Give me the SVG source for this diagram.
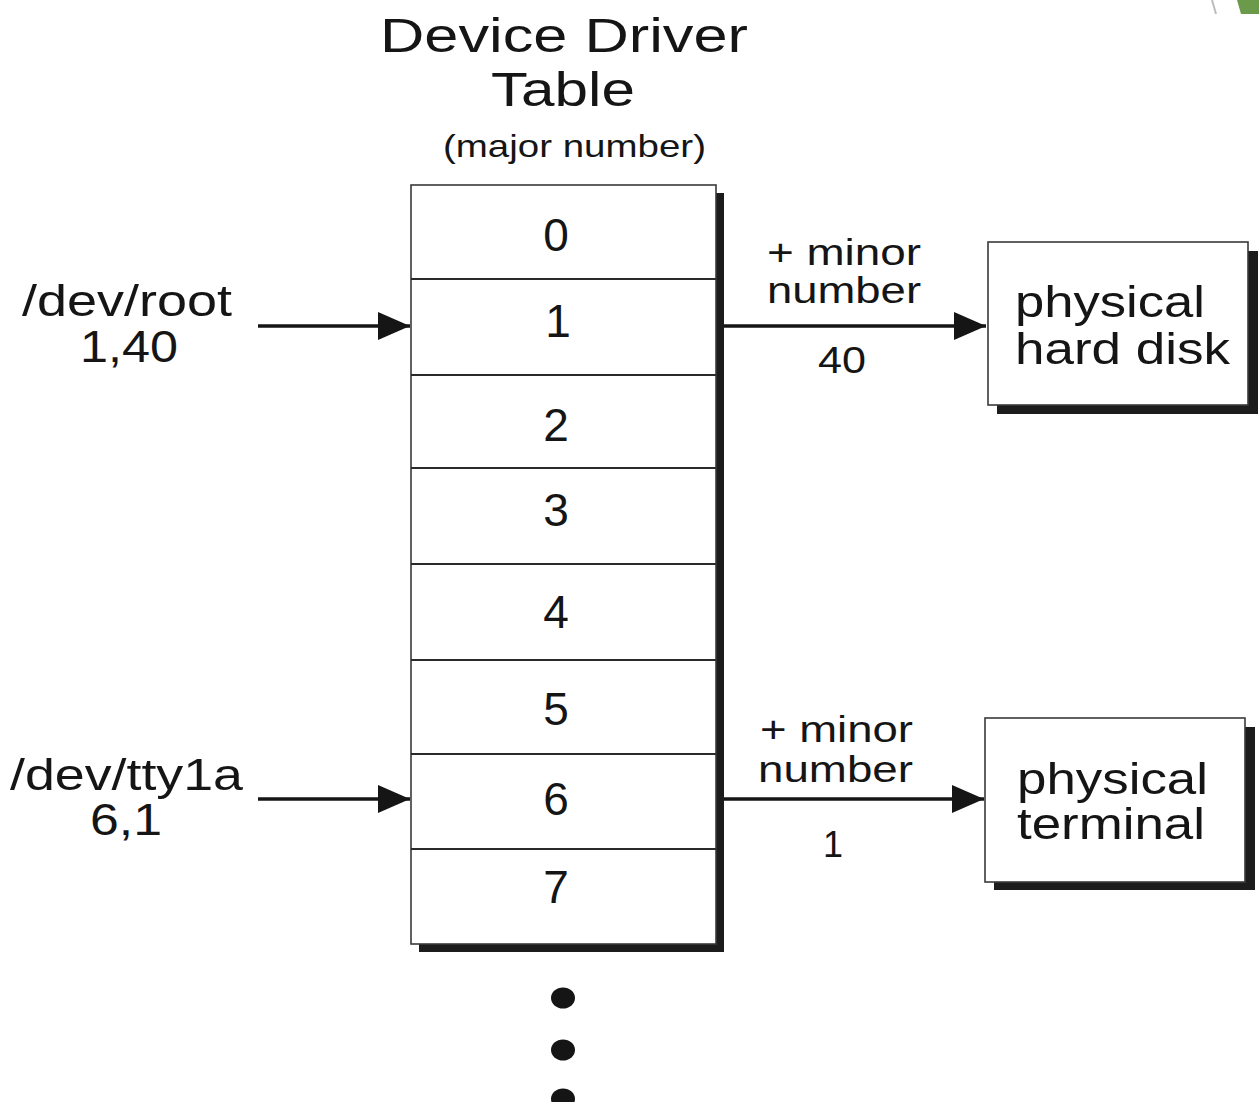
<svg xmlns="http://www.w3.org/2000/svg" width="1259" height="1102" viewBox="0 0 1259 1102">
  <defs>
    <style>
      .t { font-family: "Liberation Sans", Arial, sans-serif; fill: #151515; }
      .title { font-size: 48px; }
      .sub { font-size: 32px; }
      .cell { font-size: 46px; text-anchor: middle; }
      .dev { font-size: 44px; }
      .minor { font-size: 36px; }
      .box { font-size: 45px; }
      .box-tight { font-size: 44px; }
      .frame { fill: #ffffff; stroke: #3a3a3a; stroke-width: 1.6; }
      .shadow { fill: #1c1c1c; }
      .row { stroke: #2a2a2a; stroke-width: 2; }
      .link { stroke: #151515; stroke-width: 3.5; fill: none; }
    </style>
    <marker id="head" viewBox="0 0 32 28" refX="32" refY="14" markerWidth="32" markerHeight="28" markerUnits="userSpaceOnUse" orient="auto">
      <path d="M0,0 L32,14 L0,28 Z" fill="#151515"/>
    </marker>
  </defs>

  <rect width="1259" height="1102" fill="#ffffff"/>

  <!-- corner decoration -->
  <line x1="1212" y1="0" x2="1216" y2="14" stroke="#bdbdbd" stroke-width="2"/>
  <polygon points="1237,0 1259,0 1259,14 1241,14" fill="#6b9b4a"/>

  <!-- heading -->
  <g id="heading">
    <text class="t title" x="380" y="52" textLength="368" lengthAdjust="spacingAndGlyphs">Device Driver</text>
    <text class="t title" x="491" y="106" textLength="144" lengthAdjust="spacingAndGlyphs">Table</text>
    <text class="t sub" x="443" y="157" textLength="263" lengthAdjust="spacingAndGlyphs">(major number)</text>
  </g>

  <!-- device driver table -->
  <g id="driver-table">
    <rect class="shadow" x="419" y="193" width="305" height="759"/>
    <rect class="frame" x="411" y="185" width="305" height="759"/>
    <line class="row" x1="411" y1="279" x2="716" y2="279"/>
    <line class="row" x1="411" y1="375" x2="716" y2="375"/>
    <line class="row" x1="411" y1="468" x2="716" y2="468"/>
    <line class="row" x1="411" y1="564" x2="716" y2="564"/>
    <line class="row" x1="411" y1="660" x2="716" y2="660"/>
    <line class="row" x1="411" y1="754" x2="716" y2="754"/>
    <line class="row" x1="411" y1="849" x2="716" y2="849"/>
    <text class="t cell" x="556" y="251">0</text>
    <text class="t cell" x="558" y="337">1</text>
    <text class="t cell" x="556" y="441">2</text>
    <text class="t cell" x="556" y="526">3</text>
    <text class="t cell" x="556" y="628">4</text>
    <text class="t cell" x="556" y="725">5</text>
    <text class="t cell" x="556" y="815">6</text>
    <text class="t cell" x="556" y="903">7</text>
  </g>

  <!-- continuation dots -->
  <g id="more-entries" fill="#151515">
    <ellipse cx="563" cy="998" rx="12" ry="10.5"/>
    <ellipse cx="563" cy="1050" rx="12" ry="10.5"/>
    <ellipse cx="563" cy="1099" rx="12" ry="10.5"/>
  </g>

  <!-- device file names -->
  <g id="dev-root">
    <text class="t dev" x="22" y="316" textLength="210" lengthAdjust="spacingAndGlyphs">/dev/root</text>
    <text class="t dev" x="80" y="362" textLength="98" lengthAdjust="spacingAndGlyphs">1,40</text>
  </g>
  <g id="dev-tty1a">
    <text class="t dev" x="10" y="790" textLength="233" lengthAdjust="spacingAndGlyphs">/dev/tty1a</text>
    <text class="t dev" x="90" y="835" textLength="72" lengthAdjust="spacingAndGlyphs">6,1</text>
  </g>

  <!-- physical devices -->
  <g id="hard-disk">
    <rect class="shadow" x="997" y="251" width="261" height="163"/>
    <rect class="frame" x="988" y="242" width="260" height="163"/>
    <text class="t box" x="1015" y="317" textLength="190" lengthAdjust="spacingAndGlyphs">physical</text>
    <text class="t box" x="1015" y="364" textLength="215" lengthAdjust="spacingAndGlyphs">hard disk</text>
  </g>
  <g id="terminal">
    <rect class="shadow" x="994" y="727" width="261" height="163"/>
    <rect class="frame" x="985" y="718" width="260" height="164"/>
    <text class="t box-tight" x="1017" y="794" textLength="191" lengthAdjust="spacingAndGlyphs">physical</text>
    <text class="t box-tight" x="1017" y="839" textLength="188" lengthAdjust="spacingAndGlyphs">terminal</text>
  </g>

  <!-- connectors -->
  <g id="connectors">
    <line class="link" x1="258" y1="326" x2="410" y2="326" marker-end="url(#head)"/>
    <line class="link" x1="258" y1="799" x2="410" y2="799" marker-end="url(#head)"/>
    <line class="link" x1="724" y1="326" x2="986" y2="326" marker-end="url(#head)"/>
    <line class="link" x1="724" y1="799" x2="984" y2="799" marker-end="url(#head)"/>
    <text class="t minor" x="767" y="265" textLength="154" lengthAdjust="spacingAndGlyphs">+ minor</text>
    <text class="t minor" x="767" y="303" textLength="154" lengthAdjust="spacingAndGlyphs">number</text>
    <text class="t minor" x="818" y="373" textLength="48" lengthAdjust="spacingAndGlyphs">40</text>
    <text class="t minor" x="760" y="742" textLength="153" lengthAdjust="spacingAndGlyphs">+ minor</text>
    <text class="t minor" x="758" y="782" textLength="155" lengthAdjust="spacingAndGlyphs">number</text>
    <text class="t minor" x="823" y="857">1</text>
  </g>
</svg>
